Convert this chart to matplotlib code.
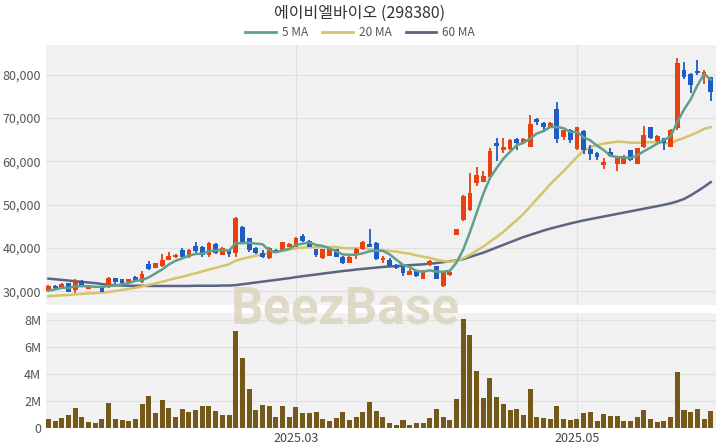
import numpy as np
import pandas as pd
import matplotlib
matplotlib.use("Agg")
import matplotlib.pyplot as plt
from matplotlib.lines import Line2D

plt.rcParams['font.family'] = ['Noto Sans CJK KR', 'DejaVu Sans']

# ---- data ----
title = "에이비엘바이오 (298380)"
tick_idx = [37, 79]
tick_labels = ["2025.03", "2025.05"]

# closes before the window, only used to warm up the 5/20 day averages
prev_close = [29000, 29200, 28800, 29100, 28900, 28700, 29000, 28800, 28900,
              27800, 27500, 27600, 27400, 27700, 27600, 29500, 29800, 30000, 30200]

opens = [30000, 31200, 30700, 31800, 30300, 32300, 30500, 31100, 30900, 30900,
         33000, 32800, 32100, 33200, 32200, 36300, 35400, 35700, 37300, 37800,
         39500, 38000, 40400, 40300, 38400, 41000, 38400, 39400, 38800, 44900,
         42200, 39900, 38800, 37600, 39600, 39600, 40300, 40200, 42700, 41700,
         39700, 37700, 38200, 39700, 38000, 36600, 38400, 39700, 40800, 41200,
         37100, 37300, 36000, 35600, 33800, 34900, 32800, 36100, 35800, 31100,
         33800, 43000, 46500, 48800, 55100, 55300, 56500, 64300, 62600, 62800,
         65100, 64200, 63400, 69900, 68900, 67900, 72000, 65600, 67200, 62800,
         67100, 62800, 62000, 59200, 62200, 59400, 59400, 62600, 59400, 63400,
         67900, 64600, 65300, 63400, 67700, 81100, 80300, 81000, 80000, 79400]
closes = [31200, 30800, 31700, 29900, 32200, 31100, 30900, 30900, 29900, 33000,
          32100, 31800, 32700, 32300, 34000, 35100, 36400, 37200, 38100, 38300,
          37900, 39500, 39200, 38400, 41200, 38800, 39900, 38600, 47000, 41100,
          39400, 38800, 37900, 40000, 38900, 41300, 40800, 42400, 41500, 40300,
          38400, 39700, 39700, 38000, 36600, 38000, 39800, 41400, 40300, 37400,
          37600, 35800, 35300, 34300, 34700, 33400, 34700, 37000, 32800, 34500,
          34500, 44300, 51900, 52800, 56900, 56600, 62500, 63600, 63400, 65000,
          64200, 65100, 68600, 69200, 67900, 68900, 65100, 67200, 64900, 67900,
          62600, 61700, 61000, 59900, 61300, 61100, 61300, 60200, 63000, 66100,
          65300, 65900, 64300, 67300, 82700, 79600, 77700, 80400, 80700, 76100]
highs = [31400, 31400, 31800, 32000, 32800, 32500, 31100, 31200, 31000, 33200,
         33000, 32900, 32900, 33400, 34700, 36900, 36500, 38600, 39000, 38500,
         40000, 39700, 41300, 40500, 41400, 41100, 40100, 39500, 47100, 45000,
         42300, 40100, 39600, 40200, 39800, 41400, 41100, 42500, 43300, 41800,
         39800, 39800, 39800, 39800, 38100, 38100, 40000, 41500, 44300, 41300,
         38100, 37600, 36200, 35700, 35100, 35000, 34800, 37300, 35900, 34600,
         34700, 44400, 52200, 57200, 58800, 57800, 63200, 65500, 65300, 65200,
         65400, 65300, 70700, 70100, 69100, 69200, 73800, 67300, 67400, 68000,
         67200, 63700, 62200, 60800, 63000, 61300, 61400, 62700, 63100, 68200,
         68000, 66000, 65400, 67400, 83800, 82900, 80400, 83500, 81200, 79500]
lows = [29800, 30600, 30600, 29700, 29600, 30900, 30400, 30800, 29800, 30700,
        31600, 31500, 32000, 32200, 32000, 34800, 35300, 35600, 37200, 37700,
        37800, 37700, 38900, 38000, 38000, 38600, 38300, 38000, 38000, 40900,
        39000, 38600, 37600, 37400, 38800, 39500, 40200, 40100, 41300, 40200,
        37800, 37500, 38100, 37900, 36300, 36500, 37500, 39600, 40200, 37300,
        36600, 35700, 35200, 33500, 33700, 33300, 32700, 35800, 32700, 31000,
        33500, 42900, 46300, 48600, 54200, 55200, 56200, 60000, 62000, 62600,
        62600, 64000, 63300, 68500, 66900, 67800, 64200, 64900, 64200, 62600,
        61800, 60300, 60300, 58200, 61100, 57800, 59300, 60100, 59300, 63000,
        65200, 64500, 62700, 63300, 67300, 79000, 75900, 79900, 77800, 74000]
volume_m = [0.63, 0.55, 0.75, 0.93, 1.48, 0.78, 0.45, 0.35, 0.63, 1.85,
            0.63, 0.58, 0.50, 0.70, 1.78, 2.40, 1.13, 2.10, 1.45, 0.78,
            1.38, 1.15, 1.35, 1.65, 1.60, 1.28, 0.98, 0.93, 7.20, 5.18,
            2.90, 1.35, 1.68, 1.60, 0.78, 1.65, 0.80, 1.58, 1.10, 1.08,
            1.18, 0.68, 0.55, 0.75, 1.15, 0.58, 0.80, 1.18, 1.90, 1.25,
            0.85, 0.38, 0.25, 0.58, 0.22, 0.38, 0.38, 0.75, 1.43, 0.78,
            0.58, 2.15, 8.05, 6.88, 4.20, 2.25, 3.73, 2.30, 1.80, 1.33,
            1.40, 0.95, 2.85, 0.78, 0.73, 0.65, 1.65, 0.70, 0.60, 0.68,
            1.10, 1.15, 0.53, 1.05, 0.90, 0.88, 0.50, 0.50, 0.80, 1.30,
            0.68, 0.48, 0.55, 0.85, 4.13, 1.30, 1.15, 1.40, 0.65, 1.23]
ma60 = [32900, 32750, 32600, 32450, 32300, 32150, 32000, 31850, 31650, 31450,
        31350, 31300, 31250, 31250, 31250, 31200, 31200, 31200, 31200, 31200,
        31200, 31200, 31250, 31250, 31250, 31250, 31300, 31300, 31400, 31600,
        31800, 32000, 32200, 32400, 32600, 32800, 33000, 33250, 33450, 33650,
        33850, 34050, 34250, 34450, 34650, 34800, 35000, 35150, 35300, 35450,
        35600, 35700, 35800, 35900, 36000, 36100, 36200, 36350, 36500, 36700,
        36900, 37100, 37400, 37900, 38400, 38900, 39500, 40100, 40700, 41300,
        41900, 42500, 43000, 43500, 44000, 44450, 44850, 45250, 45650, 46000,
        46350, 46650, 46950, 47250, 47550, 47850, 48150, 48450, 48750, 49050,
        49350, 49650, 49950, 50300, 50750, 51300, 52150, 53100, 54100, 55200]

# ---- derived ----
n = len(closes)
x = np.arange(n)
all_close = pd.Series(prev_close + closes)
ma5 = all_close.rolling(5).mean().values[len(prev_close):]
ma20 = all_close.rolling(20).mean().values[len(prev_close):]

RED = "#e8400f"
BLUE = "#1f5cc4"
BG = "#f1f1f1"

fig = plt.figure(figsize=(7.2, 4.48), dpi=100)
ax = fig.add_axes([0.064, 0.3192, 0.9306, 0.5804])
axv = fig.add_axes([0.064, 0.0446, 0.9306, 0.2567], sharex=ax)

for a in (ax, axv):
    a.set_facecolor(BG)
    for s in a.spines.values():
        s.set_visible(False)
    a.tick_params(length=0, colors="#555555", labelsize=9)
    a.set_axisbelow(True)

# candles
opens_a = np.array(opens)
closes_a = np.array(closes)
up = closes_a >= opens_a
colors = np.where(up, RED, BLUE)
body_lo = np.minimum(opens_a, closes_a)
body_h = np.maximum(np.abs(closes_a - opens_a), 150)
ax.vlines(x, lows, highs, color=colors, linewidth=1.3, zorder=3)
ax.bar(x, body_h, bottom=body_lo, width=0.72, color=colors, zorder=4)

ax.plot(x, ma60, color="#5b6482", lw=1.8, zorder=2)
ax.plot(x, ma20, color="#d6c46a", lw=1.8, zorder=2)
ax.plot(x, ma5, color="#5fa08c", lw=1.8, zorder=5)

ax.set_ylim(26800, 86900)
ax.set_yticks([30000, 40000, 50000, 60000, 70000, 80000])
ax.set_yticklabels([f"{v:,}" for v in [30000, 40000, 50000, 60000, 70000, 80000]])
ax.set_xlim(-0.35, n - 0.2)
ax.set_xticks([20, 40, 60, 80])
ax.grid(True, color="#e0e0e0", lw=0.8)
ax.tick_params(labelbottom=False)

# volume
axv.bar(x, volume_m, width=0.75, color="#735817", zorder=3)
axv.set_ylim(0, 8.5)
axv.set_yticks([0, 2, 4, 6, 8])
axv.set_yticklabels(["0", "2M", "4M", "6M", "8M"])
axv.grid(True, color="#e0e0e0", lw=0.8)
axv.set_xticks(tick_idx)
axv.set_xticklabels(tick_labels, color="#444444")
axv.tick_params(axis="x", pad=3)

fig.text(0.5, 0.971, title, ha="center", va="center", fontsize=11.5,
         color="#333333", fontweight="light")
handles = [Line2D([], [], color="#5fa08c", lw=2),
           Line2D([], [], color="#d6c46a", lw=2),
           Line2D([], [], color="#5b6482", lw=2)]
fig.legend(handles, ["5 MA", "20 MA", "60 MA"], loc="center", ncol=3,
           bbox_to_anchor=(0.5, 0.928), frameon=False, fontsize=8.5,
           handlelength=2.6, columnspacing=1.2, handletextpad=0.5,
           labelcolor="#555555")

fig.text(0.48, 0.31, "BeezBase", ha="center", va="center", fontsize=37,
         fontweight="bold", family="Roboto", color="#dbd5c0", alpha=0.85,
         zorder=10)

fig.savefig("out.png", dpi=100, facecolor="white")
